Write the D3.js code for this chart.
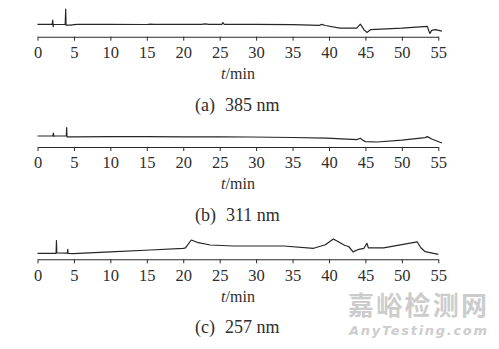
<!DOCTYPE html>
<html>
<head>
<meta charset="utf-8">
<script src="https://cdn.jsdelivr.net/npm/d3@7"></script>
<style>
  body { margin: 0; background: #fff; }
  svg { display: block; }
  .serif { font-family: "Liberation Serif", "Times New Roman", "DejaVu Serif", serif; }
</style>
</head>
<body>
<svg width="499" height="349"></svg>
<script>
// chromatograms, time (min) vs detector signal (arbitrary units)
const ticks = [0, 5, 10, 15, 20, 25, 30, 35, 40, 45, 50, 55];

const trace385 = [
  [0, 12.3], [2.0, 12.3], [2.1, 16.5], [2.15, 10], [2.2, 12.2], [3.8, 12.2],
  [3.87, 27.5], [3.92, 11.5], [4.5, 11.5], [5.0, 12.0], [5.5, 12.3], [10, 12.3],
  [15, 12.2], [15.5, 12.6], [16, 12.3], [22.5, 12.4], [23, 12.8], [23.5, 12.4],
  [25.3, 12.4], [25.45, 14.2], [25.6, 12.4], [30, 12.3], [35, 12], [38.7, 11.4],
  [39, 12.3], [39.5, 11.2], [41.5, 8.5], [43.8, 8.5], [44.3, 12.5], [44.8, 7],
  [45.2, 4.3], [45.7, 7], [50, 8.5], [53.5, 10.3], [53.7, 6], [53.85, 3.3],
  [54.1, 6.3], [54.6, 7], [55.5, 5.5]
];

const trace311 = [
  [0, 11], [2.1, 11], [2.18, 14], [2.25, 10.5], [2.3, 11], [3.95, 11],
  [4.0, 19.5], [4.05, 10.2], [5, 10.2], [10, 10.3], [15, 10.3], [20, 10.2],
  [25, 10.2], [29.2, 10], [35, 9.5], [39.7, 8.8], [43.8, 7.4], [44.3, 8.7],
  [44.6, 7.0], [45, 5.4], [46.6, 5.0], [50, 6.8], [53.2, 9.4], [53.5, 10.4],
  [54.1, 8], [55.5, 4]
];

const trace257 = [
  [0, 6], [2.55, 6], [2.6, 18.6], [2.65, 6.5], [4.1, 6.2], [4.15, 10],
  [4.2, 5.8], [4.9, 5.6], [10, 7.5], [15.5, 9.3], [20, 11], [20.3, 11.5],
  [21.1, 19.3], [21.9, 17], [23.7, 14.3], [26.9, 13.3], [29.2, 13.3],
  [33.8, 13.3], [37.9, 11], [39.5, 14.5], [40.6, 20.3], [42.2, 13.8],
  [42.7, 12.8], [43.3, 7.4], [44.1, 10], [44.8, 11], [45.2, 16], [45.4, 11.4],
  [47.5, 11.5], [52.1, 17.5], [52.6, 11.5], [53.2, 7.6], [55, 5]
];

const panelLabels = ["a", "b", "c"];
const wavelengths = ["385 nm", "311 nm", "257 nm"];
const traces = [trace385, trace311, trace257];
const panelTops = [0, 110.3, 222.6];

const svg = d3.select("svg");

const x = d3.scaleLinear().domain([0, 55]).range([37.5, 438.3]);

traces.forEach((trace, i) => {
  const top = panelTops[i];
  const axisY = top + 36.7;
  const y = d3.scaleLinear().domain([0, 30]).range([axisY, axisY - 30]);
  const g = svg.append("g");

  // x axis, ticks pointing down
  const axis = g.append("g")
    .attr("transform", `translate(0,${axisY})`)
    .call(d3.axisBottom(x).tickValues(ticks).tickSize(4).tickSizeOuter(0));
  axis.select(".domain").attr("stroke", "#2a2a2a").attr("stroke-width", 1.1);
  axis.selectAll(".tick line").attr("stroke", "#2a2a2a").attr("stroke-width", 1);
  axis.selectAll(".tick text")
    .attr("class", "serif")
    .style("font-size", "16.5px")
    .attr("fill", "#2e2e2e")
    .attr("y", 58 - 36.7)
    .attr("dy", 0);

  const line = d3.line()
    .x(d => x(d[0]))
    .y(d => y(d[1]));

  g.append("path")
    .datum(trace)
    .attr("d", line)
    .attr("fill", "none")
    .attr("stroke", "#262626")
    .attr("stroke-width", 1.2)
    .attr("stroke-linejoin", "round");

  // axis title t/min
  const title = g.append("text")
    .attr("class", "serif")
    .attr("x", 238)
    .attr("y", top + 79)
    .attr("text-anchor", "middle")
    .style("font-size", "16px")
    .attr("fill", "#2e2e2e");
  title.append("tspan").attr("font-style", "italic").text("t");
  title.append("tspan").text("/min");

  // panel caption
  const cap = g.append("text")
    .attr("class", "serif")
    .attr("x", 195)
    .attr("y", top + 110.5)
    .style("font-size", "18px")
    .attr("fill", "#2e2e2e");
  cap.append("tspan").text(`(${panelLabels[i]})`);
  cap.append("tspan").attr("dx", 10).text(wavelengths[i]);
});

// watermark
svg.append("text")
  .attr("x", 348)
  .attr("y", 315)
  .style("font-family", "'Noto Sans CJK SC', sans-serif")
  .attr("font-weight", "bold")
  .style("font-size", "26px")
  .attr("textLength", 139)
  .attr("fill", "#cccccc")
  .text("嘉峪检测网");

svg.append("text")
  .attr("x", 349)
  .attr("y", 335)
  .style("font-family", "'DejaVu Sans', sans-serif")
  .attr("font-weight", "bold")
  .attr("font-style", "italic")
  .style("font-size", "13px")
  .attr("textLength", 138)
  .attr("fill", "#cdcdcd")
  .text("AnyTesting.com");
</script>
</body>
</html>
